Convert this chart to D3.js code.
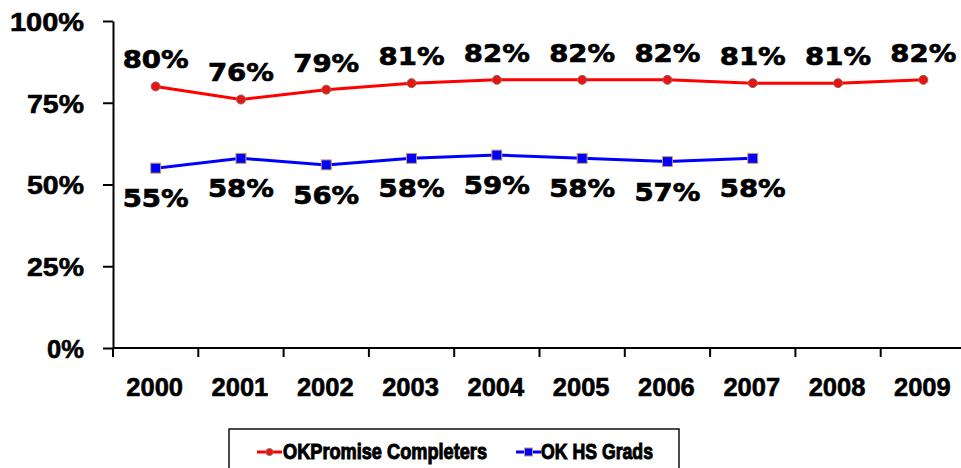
<!DOCTYPE html>
<html>
<head>
<meta charset="utf-8">
<script src="https://cdn.jsdelivr.net/npm/d3@7"></script>
<style>
  body { margin: 0; background: #fff; }
  svg { display: block; }
</style>
</head>
<body>
<div id="chart"></div>
<script>
const years = ["2000", "2001", "2002", "2003", "2004", "2005", "2006", "2007", "2008", "2009"];
const okPromise = [80, 76, 79, 81, 82, 82, 82, 81, 81, 82];
const hsGrads = [55, 58, 56, 58, 59, 58, 57, 58];
const yTicks = [0, 25, 50, 75, 100];

const width = 961, height = 468;
const margin = { top: 21, left: 113, bottom: 348, right: 966 };

const svg = d3.select("#chart").append("svg")
  .attr("width", width)
  .attr("height", height);

const x = d3.scaleBand()
  .domain(years)
  .range([margin.left, margin.right]);

const y = d3.scaleLinear()
  .domain([0, 100])
  .range([margin.bottom, margin.top]);

// y axis
const yAxis = svg.append("g")
  .attr("transform", `translate(${margin.left},0)`)
  .call(d3.axisLeft(y).tickValues(yTicks).tickSize(10).tickSizeOuter(0).tickFormat(d => d + "%"));
yAxis.select(".domain").attr("stroke", "#000").attr("stroke-width", 2);
yAxis.selectAll(".tick line").attr("stroke", "#000").attr("stroke-width", 2);
yAxis.selectAll(".tick text")
  .attr("x", -29)
  .attr("dy", "0.37em")
  .attr("font-family", "'Liberation Sans', Arial, sans-serif")
  .attr("font-weight", "bold")
  .attr("font-size", 25)
  .attr("fill", "#000")
  .attr("stroke", "#000")
  .attr("stroke-width", 0.6)
  .attr("textLength", d => d === 100 ? 74 : (d === 0 ? 37 : 57))
  .attr("lengthAdjust", "spacingAndGlyphs");

// x axis, ticks between categories
const xAxis = svg.append("g")
  .attr("transform", `translate(0,${margin.bottom})`);
xAxis.append("line")
  .attr("x1", margin.left).attr("x2", margin.right)
  .attr("stroke", "#000").attr("stroke-width", 2);
xAxis.selectAll(".xtick")
  .data(years)
  .join("line")
  .attr("class", "xtick")
  .attr("x1", d => x(d)).attr("x2", d => x(d))
  .attr("y1", 0).attr("y2", 9)
  .attr("stroke", "#000").attr("stroke-width", 2);
xAxis.selectAll(".xlabel")
  .data(years)
  .join("text")
  .attr("class", "xlabel")
  .attr("x", d => x(d) + x.bandwidth() / 2 - 1)
  .attr("y", 48)
  .attr("text-anchor", "middle")
  .attr("font-family", "'Liberation Sans', Arial, sans-serif")
  .attr("font-weight", "bold")
  .attr("font-size", 25.5)
  .attr("stroke", "#000")
  .attr("stroke-width", 0.6)
  .text(d => d);

const cx = (d, i) => x(years[i]) + x.bandwidth() / 2;

const line = d3.line()
  .x((d, i) => cx(d, i))
  .y(d => y(d));

// OKPromise line
svg.append("path")
  .datum(okPromise)
  .attr("d", line)
  .attr("fill", "none")
  .attr("stroke", "#ff0000")
  .attr("stroke-width", 3);

svg.selectAll(".redpt")
  .data(okPromise)
  .join("circle")
  .attr("class", "redpt")
  .attr("cx", cx)
  .attr("cy", d => y(d))
  .attr("r", 4.5)
  .attr("fill", "#e8140f")
  .attr("stroke", "#8a6a60")
  .attr("stroke-width", 1);

// HS grads line
svg.append("path")
  .datum(hsGrads)
  .attr("d", line)
  .attr("fill", "none")
  .attr("stroke", "#0000ff")
  .attr("stroke-width", 3);

svg.selectAll(".bluept")
  .data(hsGrads)
  .join("rect")
  .attr("class", "bluept")
  .attr("x", (d, i) => cx(d, i) - 5)
  .attr("y", d => y(d) - 5)
  .attr("width", 10)
  .attr("height", 10)
  .attr("fill", "#0000ff")
  .attr("stroke", "#c8a060")
  .attr("stroke-width", 1);

// data labels
const labelFont = "'DejaVu Sans', Verdana, sans-serif";
svg.selectAll(".redlbl")
  .data(okPromise)
  .join("text")
  .attr("class", "redlbl")
  .attr("x", cx)
  .attr("y", d => y(d) - 18)
  .attr("text-anchor", "middle")
  .attr("font-family", labelFont)
  .attr("font-weight", "bold")
  .attr("font-size", 25)
  .attr("stroke", "#000")
  .attr("stroke-width", 0.7)
  .attr("textLength", 66)
  .attr("lengthAdjust", "spacingAndGlyphs")
  .text(d => d + "%");

svg.selectAll(".bluelbl")
  .data(hsGrads)
  .join("text")
  .attr("class", "bluelbl")
  .attr("x", cx)
  .attr("y", d => y(d) + 39)
  .attr("text-anchor", "middle")
  .attr("font-family", labelFont)
  .attr("font-weight", "bold")
  .attr("font-size", 25)
  .attr("stroke", "#000")
  .attr("stroke-width", 0.7)
  .attr("textLength", 66)
  .attr("lengthAdjust", "spacingAndGlyphs")
  .text(d => d + "%");

// legend
const legend = svg.append("g");
legend.append("rect")
  .attr("x", 229).attr("y", 429)
  .attr("width", 450).attr("height", 60)
  .attr("fill", "none")
  .attr("stroke", "#111")
  .attr("stroke-width", 1.5);

const legendItems = [
  { name: "OKPromise Completers", color: "#ff0000", x0: 257, tx: 283, tw: 204, shape: "circle" },
  { name: "OK HS Grads", color: "#0000ff", x0: 516, tx: 541, tw: 112, shape: "square" }
];
const ly = 452;
legendItems.forEach(it => {
  legend.append("line")
    .attr("x1", it.x0).attr("x2", it.x0 + 25)
    .attr("y1", ly).attr("y2", ly)
    .attr("stroke", it.color).attr("stroke-width", 3);
  if (it.shape === "circle") {
    legend.append("circle")
      .attr("cx", it.x0 + 12.5).attr("cy", ly).attr("r", 3.5)
      .attr("fill", "#e8140f").attr("stroke", "#8a6a60").attr("stroke-width", 1);
  } else {
    legend.append("rect")
      .attr("x", it.x0 + 8.5).attr("y", ly - 4).attr("width", 8).attr("height", 8)
      .attr("fill", "#0000ff").attr("stroke", "#c8a060").attr("stroke-width", 1);
  }
  legend.append("text")
    .attr("x", it.tx).attr("y", ly + 7)
    .attr("font-family", "'Liberation Sans', Arial, sans-serif")
    .attr("font-weight", "bold")
    .attr("font-size", 22)
    .attr("stroke", "#000")
    .attr("stroke-width", 1)
    .attr("textLength", it.tw)
    .attr("lengthAdjust", "spacingAndGlyphs")
    .text(it.name);
});
</script>
</body>
</html>
